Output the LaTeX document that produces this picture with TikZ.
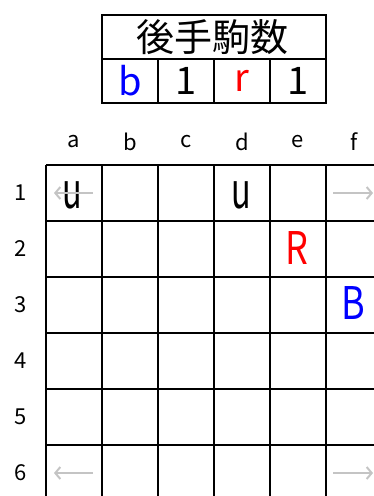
\documentclass[tikz,border=0pt]{standalone}
\usepackage{graphicx}
\usepackage{fontspec}
\setmainfont{Noto Sans CJK JP}
\usetikzlibrary{arrows.meta, positioning}
\definecolor{azulPieza}{HTML}{0000FF}
\definecolor{rojoPieza}{HTML}{FF0000}
\definecolor{grisFlecha}{HTML}{C4C4C4}
\newcommand{\angosto}[1]{\scalebox{0.8}[1]{#1}}

\begin{document}
\begin{tikzpicture}[x=1pt, y=-1pt,
        linea/.style={line width=1.3pt, black},
        marco/.style={line width=1.6pt, black},
        rot/.style={inner sep=0, font=\fontsize{22}{22}\selectfont},
        cab/.style={inner sep=0, font=\fontsize{38}{38}\selectfont},
        pz/.style={inner sep=0, font=\fontsize{45}{45}\selectfont},
        fl/.style={-{Straight Barb[length=5pt, width=12pt, line width=2pt]}, grisFlecha, line width=2.2pt}]
        \useasboundingbox (0,0) rectangle (374,496);
        \clip (0,0) rectangle (374,496);
        % cabecera
        \draw[marco] (102,15) rectangle (326,103);
        \draw[marco] (102,59) -- (326,59);
        \foreach \x in {158,214,270} \draw[marco] (\x,59) -- (\x,103);
        \node[cab] (titulo) at (212,37) {後手駒数};
        \node[cab, text=azulPieza] (cb) at (130,81) {b};
        \node[cab] (nb) at (186,81) {1};
        \node[cab, text=rojoPieza] (cr) at (242,81) {r};
        \node[cab] (nr) at (298,81) {1};
        % tablero
        \foreach \i in {0,...,6} {
            \draw[linea] (46+56*\i,165) -- (46+56*\i,500);
            \draw[linea] (46,165+56*\i) -- (380,165+56*\i);
        }
        \foreach \c [count=\i from 0] in {a,b,c,d,e,f}
            \node[rot] (col\c) at (74+56*\i,142) {\c};
        \foreach \r [count=\j from 0] in {1,...,6}
            \node[rot] (fila\r) at (21,193+56*\j) {\r};
        % piezas
        \node[pz] (ua) at (72,195) {\scalebox{0.72}[1.1]{u}};
        \node[pz] (ud) at (241,195) {\scalebox{0.72}[1.1]{u}};
        \node[pz, text=rojoPieza] (re) at (297,248.5) {\angosto{R}};
        \node[pz, text=azulPieza] (bf) at (353,303.5) {\angosto{B}};
        % flechas
        \coordinate (a1i) at (93,193);  \coordinate (a1f) at (54,193);
        \coordinate (f1i) at (333,193); \coordinate (f1f) at (373,193);
        \coordinate (a6i) at (93,473);  \coordinate (a6f) at (54,473);
        \coordinate (f6i) at (333,473); \coordinate (f6f) at (373,473);
        \draw[fl] (a1i) -- (a1f);
        \draw[fl] (f1i) -- (f1f);
        \draw[fl] (a6i) -- (a6f);
        \draw[fl] (f6i) -- (f6f);
    \end{tikzpicture}
\end{document}
